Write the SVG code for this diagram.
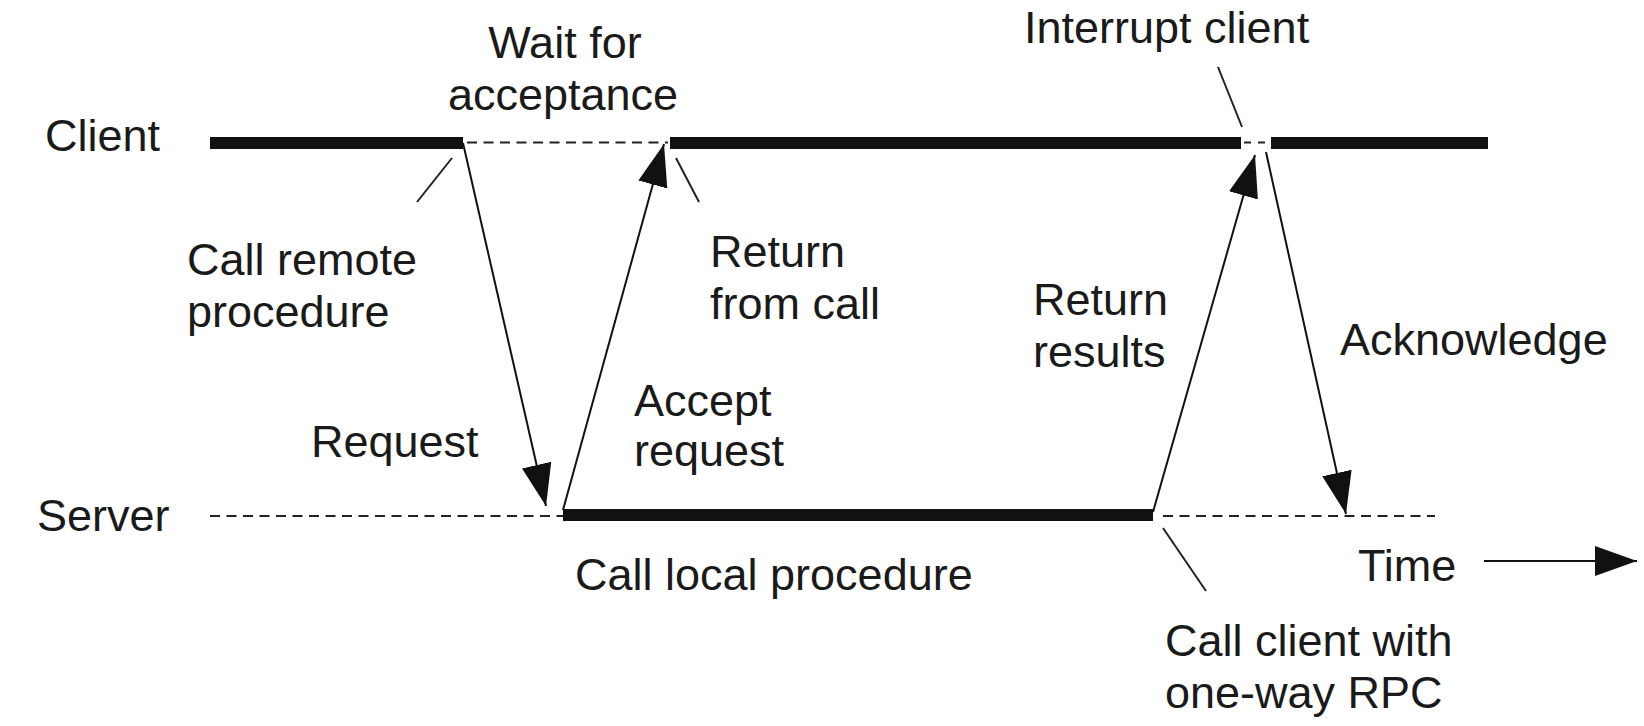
<svg xmlns="http://www.w3.org/2000/svg" width="1644" height="726" viewBox="0 0 1644 726">
  <style>
    .lbl { font-family: "Liberation Sans", Arial, Helvetica, sans-serif; font-size: 45px; fill: #1a1a1a; }
    .bar { stroke: #111; stroke-width: 12; fill: none; }
    .idle { stroke: #222; stroke-width: 2; stroke-dasharray: 10 6.5; fill: none; }
    .msg { stroke: #111; stroke-width: 2; fill: none; marker-end: url(#head); }
    .lead { stroke: #222; stroke-width: 2; fill: none; }
  </style>
  <defs>
    <marker id="head" markerUnits="userSpaceOnUse" markerWidth="44" markerHeight="36" viewBox="0 0 44 36" refX="42" refY="18" orient="auto">
      <path d="M0,3 L42,18 L0,33 Z" fill="#111"/>
    </marker>
  </defs>
  <rect width="1644" height="726" fill="#fff"/>

  <!-- client timeline -->
  <g id="client">
    <text class="lbl" x="45" y="151">Client</text>
    <line class="bar" x1="210" y1="143" x2="463" y2="143"/>
    <line class="idle" x1="467" y1="142.5" x2="668" y2="142.5"/>
    <line class="bar" x1="670" y1="143" x2="1241" y2="143"/>
    <line class="idle" x1="1244" y1="142.5" x2="1266" y2="142.5" style="stroke-dasharray:7 7"/>
    <line class="bar" x1="1271" y1="143" x2="1488" y2="143"/>
  </g>

  <!-- server timeline -->
  <g id="server">
    <text class="lbl" x="37" y="531">Server</text>
    <line class="idle" x1="210" y1="516" x2="563" y2="516"/>
    <line class="bar" x1="563" y1="515" x2="1153" y2="515"/>
    <line class="idle" x1="1163" y1="516" x2="1435" y2="516"/>
  </g>

  <!-- messages between client and server -->
  <g id="connectors">
    <line class="msg" x1="463" y1="143" x2="546" y2="506"/>
    <line class="msg" x1="563" y1="510" x2="664" y2="144"/>
    <line class="msg" x1="1153" y1="512" x2="1255" y2="155"/>
    <line class="msg" x1="1266" y1="152" x2="1346" y2="514"/>
    <line class="msg" x1="1484" y1="561" x2="1637" y2="561"/>
  </g>

  <!-- annotation leaders -->
  <g id="leaders">
    <line class="lead" x1="452" y1="158" x2="417" y2="202"/>
    <line class="lead" x1="676" y1="158" x2="699" y2="202"/>
    <line class="lead" x1="1218" y1="67" x2="1242" y2="127"/>
    <line class="lead" x1="1163" y1="528" x2="1206" y2="591"/>
  </g>

  <g id="label-wait">
    <text class="lbl" x="565" y="58" text-anchor="middle">Wait for</text>
    <text class="lbl" x="563" y="110" text-anchor="middle">acceptance</text>
  </g>
  <g id="label-interrupt">
    <text class="lbl" x="1024" y="43">Interrupt client</text>
  </g>
  <g id="label-call-remote">
    <text class="lbl" x="187" y="275">Call remote</text>
    <text class="lbl" x="187" y="327">procedure</text>
  </g>
  <g id="label-return-call">
    <text class="lbl" x="710" y="267">Return</text>
    <text class="lbl" x="710" y="319">from call</text>
  </g>
  <g id="label-return-results">
    <text class="lbl" x="1033" y="315">Return</text>
    <text class="lbl" x="1033" y="367">results</text>
  </g>
  <g id="label-ack">
    <text class="lbl" x="1340" y="355">Acknowledge</text>
  </g>
  <g id="label-request">
    <text class="lbl" x="311" y="457">Request</text>
  </g>
  <g id="label-accept">
    <text class="lbl" x="634" y="416">Accept</text>
    <text class="lbl" x="634" y="466">request</text>
  </g>
  <g id="label-local">
    <text class="lbl" x="575" y="590">Call local procedure</text>
  </g>
  <g id="label-time">
    <text class="lbl" x="1358" y="581">Time</text>
  </g>
  <g id="label-oneway">
    <text class="lbl" x="1165" y="656">Call client with</text>
    <text class="lbl" x="1165" y="708">one-way RPC</text>
  </g>
</svg>
